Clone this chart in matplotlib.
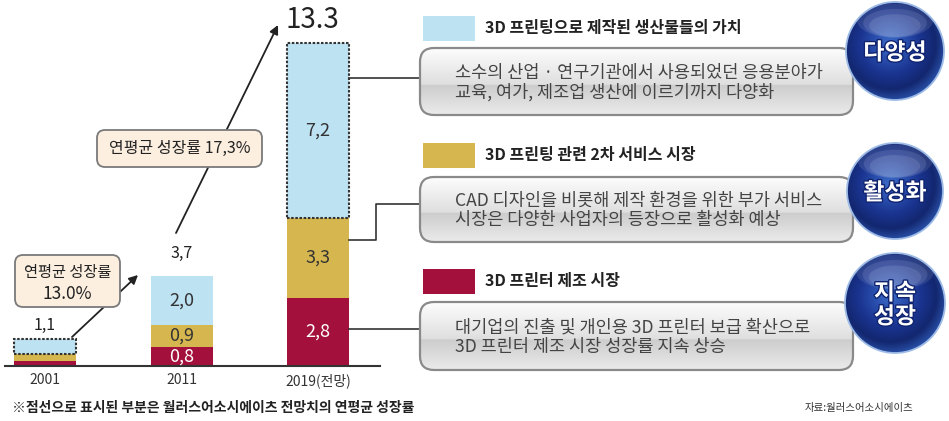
import matplotlib

matplotlib.use("Agg")
import matplotlib.pyplot as plt
import numpy as np
from matplotlib.colors import LinearSegmentedColormap
from matplotlib.patches import Circle, Ellipse, FancyBboxPatch, Rectangle
from matplotlib.patheffects import withStroke

plt.rcParams["font.family"] = ["Noto Sans CJK KR", "DejaVu Sans"]

# --- data (unit: billion dollars) ---
years = ["2001", "2011", "2019(전망)"]
printer_market = [0.2, 0.8, 2.8]
service_market = [0.3, 0.9, 3.3]
product_value = [0.6, 2.0, 7.2]
total_labels = ["1,1", "3,7", "13.3"]
projected = [True, False, True]  # dotted outline = forecast part
cagr_title = "연평균 성장률"
cagr_values = ["13.0%", "17,3%"]

series_names = [
    "3D 프린팅으로 제작된 생산물들의 가치",
    "3D 프린팅 관련 2차 서비스 시장",
    "3D 프린터 제조 시장",
]
series_notes = [
    "소수의 산업 · 연구기관에서 사용되었던 응용분야가\n교육, 여가, 제조업 생산에 이르기까지 다양화",
    "CAD 디자인을 비롯해 제작 환경을 위한 부가 서비스\n시장은 다양한 사업자의 등장으로 활성화 예상",
    "대기업의 진출 및 개인용 3D 프린터 보급 확산으로\n3D 프린터 제조 시장 성장률 지속 상승",
]
badges = ["다양성", "활성화", "지속\n성장"]
footnote = "※점선으로 표시된 부분은 월러스어소시에이츠 전망치의 연평균 성장률"
source = "자료:월러스어소시에이츠"

BLUE = "#bde2f2"
GOLD = "#d6b64e"
RED = "#a3103c"
SERIES_COLORS = [BLUE, GOLD, RED]

W, H = 949, 421
PX_PER_UNIT = 24.3  # bar height scale
SLOT = 136.5  # px between bar centres


def px_rect(x0, y0, x1, y1):
    """Pixel box (top-left origin) -> figure fraction rect."""
    return [x0 / W, 1 - y1 / H, (x1 - x0) / W, (y1 - y0) / H]


def glass_box(ov, x0, y0, x1, y1):
    patch = FancyBboxPatch(
        (x0, y0), x1 - x0, y1 - y0,
        boxstyle="round,pad=0,rounding_size=14",
        fc="none", ec="#8a8a8a", lw=1.6, zorder=3,
    )
    ov.add_patch(patch)
    t = np.linspace(0, 1, 120)
    vals = np.where(t < 0.55, 0.99 - 0.12 * t / 0.55, 0.80 + 0.12 * (t - 0.55) / 0.45)
    img = np.repeat(vals[:, None], 2, axis=1)
    im = ov.imshow(
        img, cmap="gray", vmin=0, vmax=1, extent=(x0, x1, y1, y0),
        aspect="auto", zorder=2, interpolation="bilinear",
    )
    im.set_clip_path(patch)


def badge(ov, cx, cy, r, label):
    circ = Circle((cx, cy), r, fc="none", ec="#9dbbe6", lw=1.3, zorder=5)
    ov.add_patch(circ)
    yy, xx = np.mgrid[-1:1:200j, -1:1:200j]
    d = np.hypot(xx + 0.1, yy + 0.15)
    cmap = LinearSegmentedColormap.from_list(
        "badge", ["#3d6cc9", "#2a4fae", "#1a3490", "#13276f", "#2f5cb8"]
    )
    im = ov.imshow(
        d, cmap=cmap, vmin=0, vmax=1.25, extent=(cx - r, cx + r, cy + r, cy - r),
        aspect="auto", zorder=4, interpolation="bilinear",
    )
    im.set_clip_path(circ)
    for k, a in enumerate((0.10, 0.10, 0.10)):
        hl = Ellipse((cx, cy - r * (0.62 - 0.05 * k)), r * (1.55 - 0.25 * k),
                     r * (0.7 - 0.12 * k), fc="white", alpha=a, ec="none", zorder=4.5)
        ov.add_patch(hl)
        hl.set_clip_path(circ)
    ov.text(cx, cy + 2, label, color="white", fontsize=16.5, fontweight="bold",
            ha="center", va="center", zorder=6, linespacing=1.05,
            path_effects=[withStroke(linewidth=2, foreground="#102470")])


fig = plt.figure(figsize=(W / 100, H / 100), dpi=100)

# --- stacked bars ---
ax = fig.add_axes(px_rect(5, 0, 380, 366))
ax.set_xlim(-40 / SLOT, (375 - 40) / SLOT)
ax.set_ylim(0, 366 / PX_PER_UNIT)
x = np.arange(len(years))
bw = 62 / SLOT
ax.bar(x, printer_market, bw, color=RED)
ax.bar(x, service_market, bw, bottom=printer_market, color=GOLD)
bottom3 = np.add(printer_market, service_market)
blue_bars = ax.bar(x, product_value, bw, bottom=bottom3, color=BLUE)
for patch, dotted in zip(blue_bars, projected):
    if dotted:
        patch.set_edgecolor("#333333")
        patch.set_linestyle((0, (1.2, 0.8)))
        patch.set_linewidth(1.5)

for i in x:
    if i == 0:
        continue  # 2001 segments too thin to label
    base = 0.0
    for vals, col in ((printer_market, "white"), (service_market, "#333333"),
                      (product_value, "#333333")):
        v = vals[i]
        ax.text(i, base + v / 2, f"{v:.1f}".replace(".", ","), ha="center",
                va="center", fontsize=13, color=col)
        base += v

totals = np.add(bottom3, product_value)
for i, (tot, lab) in enumerate(zip(totals, total_labels)):
    big = i == len(totals) - 1
    ax.annotate(lab, (i - (0.04 if big else 0), tot),
                xytext=(0, (23 if i else 14) * 0.72), textcoords="offset points",
                ha="center", va="center", fontsize=20 if big else 11.5,
                color="#222222", annotation_clip=False)

for side in ("top", "right", "left"):
    ax.spines[side].set_visible(False)
ax.spines["bottom"].set_color("#333333")
ax.spines["bottom"].set_linewidth(1.5)
ax.set_yticks([])
ax.set_xticks(x)
ax.set_xticklabels(years, fontsize=10, color="#333333")
ax.tick_params(axis="x", length=0, pad=5)
ax.patch.set_alpha(0)

# --- overlay in pixel coordinates ---
ov = fig.add_axes([0, 0, 1, 1])
ov.axis("off")

# connectors from the 2019 bar to the description boxes
ov.plot([349, 420], [78, 78], color="#333333", lw=1.2, zorder=1)
ov.plot([349, 376, 376, 420], [240, 240, 204, 204], color="#333333", lw=1.2, zorder=1)
ov.plot([349, 420], [329, 329], color="#333333", lw=1.2, zorder=1)

box_y = [(48, 115), (177, 242), (302, 370)]
head_y = [28, 155, 281]
badge_c = [(895, 51, 49), (895, 191, 48), (895, 303, 50)]
for name, note, col, (y0, y1), hy, lab, (cx, cy, r) in zip(
        series_names, series_notes, SERIES_COLORS, box_y, head_y, badges, badge_c):
    ov.add_patch(Rectangle((423, hy - 12), 52, 25, fc=col, ec="none"))
    ov.text(485, hy, name, fontsize=11.5, fontweight="bold", color="#222222",
            va="center")
    glass_box(ov, 420, y0, 853, y1)
    ov.text(455, (y0 + y1) / 2 + 1, note, fontsize=12.6, color="#444444",
            va="center", zorder=4, linespacing=1.08)
    badge(ov, cx, cy, r, lab)

# growth-rate arrows and callouts
arrow = dict(arrowstyle="-|>", color="#222222", lw=1.3, mutation_scale=13,
             shrinkA=0, shrinkB=0)
ov.annotate("", xy=(138, 275), xytext=(72, 337), arrowprops=arrow, zorder=3)
ov.annotate("", xy=(278, 25), xytext=(176, 233), arrowprops=arrow, zorder=3)
for bx0, by0, bx1, by1 in [(15, 255, 120, 307), (97, 130, 262, 167)]:
    ov.add_patch(FancyBboxPatch((bx0, by0), bx1 - bx0, by1 - by0,
                                boxstyle="round,pad=0,rounding_size=8",
                                fc="#fcefe0", ec="#7a7a7a", lw=1.3, zorder=4))
ov.text(67.5, 273, cagr_title, fontsize=11, color="#222222", ha="center",
        va="center", zorder=5)
ov.text(67.5, 294, cagr_values[0], fontsize=12.5, color="#222222", ha="center",
        va="center", zorder=5)
ov.text(179.5, 148.5, f"{cagr_title} {cagr_values[1]}", fontsize=11.5,
        color="#222222", ha="center", va="center", zorder=5)

ov.text(12, 408, footnote, fontsize=10, fontweight="bold", color="#222222",
        va="center")
ov.text(913, 408, source, fontsize=7.5, color="#333333", ha="right", va="center")

ov.set_xlim(0, W)
ov.set_ylim(H, 0)

fig.savefig("out.png", dpi=100, facecolor="white")
